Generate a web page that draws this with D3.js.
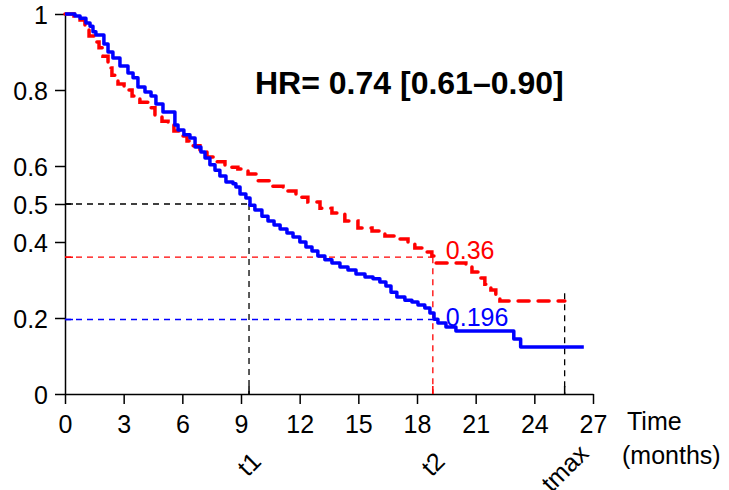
<!DOCTYPE html>
<html>
<head>
<meta charset="utf-8">
<script src="https://cdn.jsdelivr.net/npm/d3@7.9.0/dist/d3.min.js"></script>
<style>
  body { margin: 0; background: #fff; }
  text { font-family: "Liberation Sans", Arial, sans-serif; }
</style>
</head>
<body>
<svg id="chart" width="729" height="490"></svg>
<script>
// Kaplan-Meier curves: [time (months), survival]
const blueCurve = [
  [0, 1], [0.51, 0.995], [0.77, 0.989], [1.07, 0.976], [1.28, 0.968], [1.43, 0.953],
  [1.58, 0.945], [1.99, 0.921], [2.2, 0.9], [2.45, 0.884], [2.81, 0.863], [3.22, 0.845],
  [3.48, 0.832], [3.73, 0.808], [4.09, 0.795], [4.4, 0.784], [4.65, 0.763], [5.01, 0.742],
  [5.62, 0.708], [5.78, 0.695], [6.08, 0.682], [6.39, 0.674], [6.65, 0.65], [6.95, 0.637],
  [7.16, 0.621], [7.41, 0.603], [7.67, 0.589], [7.92, 0.574], [8.23, 0.558], [8.59, 0.553],
  [8.74, 0.545], [8.95, 0.526], [9.25, 0.516], [9.46, 0.497], [9.71, 0.484], [10.07, 0.468],
  [10.38, 0.455], [10.69, 0.445], [11.0, 0.434], [11.35, 0.424], [11.66, 0.413], [12.01, 0.4],
  [12.32, 0.387], [12.63, 0.376], [12.93, 0.363], [13.29, 0.353], [13.65, 0.345], [14.06, 0.334],
  [14.47, 0.326], [14.88, 0.316], [15.34, 0.308], [15.75, 0.303], [16.1, 0.295], [16.41, 0.284],
  [16.67, 0.268], [16.97, 0.255], [17.38, 0.247], [17.74, 0.242], [18.05, 0.234], [18.4, 0.226],
  [18.66, 0.213], [18.87, 0.197], [19.07, 0.187], [19.48, 0.176], [19.99, 0.166], [22.95, 0.145],
  [23.3, 0.124], [26.53, 0.124]
];
const redCurve = [
  [0, 1], [0.46, 0.995], [0.77, 0.984], [1.02, 0.963], [1.23, 0.942], [1.48, 0.926],
  [1.74, 0.911], [1.94, 0.889], [2.2, 0.858], [2.4, 0.839], [2.71, 0.816], [3.02, 0.8],
  [3.43, 0.784], [3.83, 0.768], [4.24, 0.753], [4.6, 0.734], [4.96, 0.718], [5.27, 0.708],
  [5.57, 0.692], [5.88, 0.679], [6.24, 0.666], [6.54, 0.653], [6.9, 0.637], [7.26, 0.624],
  [7.67, 0.611], [8.18, 0.597], [8.84, 0.592], [9.36, 0.579], [9.87, 0.561], [10.48, 0.547],
  [11.15, 0.534], [11.81, 0.518], [12.42, 0.505], [13.04, 0.489], [13.65, 0.476], [14.31, 0.455],
  [14.98, 0.437], [15.7, 0.429], [16.36, 0.416], [16.97, 0.408], [17.54, 0.397], [17.89, 0.384],
  [18.3, 0.374], [18.76, 0.363], [18.97, 0.345], [20.5, 0.337], [20.81, 0.321], [21.17, 0.305],
  [21.47, 0.289], [21.78, 0.274], [22.03, 0.255], [22.24, 0.245], [25.56, 0.245]
];

const xTicks = [0, 3, 6, 9, 12, 15, 18, 21, 24, 27];
const yTicks = [0, 0.2, 0.4, 0.5, 0.6, 0.8, 1];
const yLabels = ["0", "0.2", "0.4", "0.5", "0.6", "0.8", "1"];

// marked times and survival values
const t1 = 9.41, t2 = 18.81, tmax = 25.55;
const medianSurv = 0.5, redAtT2 = 0.36, blueAtT2 = 0.196, tmaxTop = 0.265;
const markLabels = ["t1", "t2", "tmax"];
const hrText = "HR= 0.74 [0.61\u20130.90]";

const svg = d3.select('#chart');
const x = d3.scaleLinear().domain([0, 27]).range([65, 593]);
const y = d3.scaleLinear().domain([0, 1]).range([394, 14]);

// axes (R style: line only spans the ticks)
const xAxis = svg.append('g').attr('transform', 'translate(0,394)')
  .call(d3.axisBottom(x).tickValues(xTicks).tickSize(10).tickPadding(6).tickSizeOuter(0));
const yAxis = svg.append('g').attr('transform', 'translate(65,0)')
  .call(d3.axisLeft(y).tickValues(yTicks).tickFormat((d, i) => yLabels[i]).tickSize(10).tickPadding(7).tickSizeOuter(0));
[xAxis, yAxis].forEach(a => {
  a.select('.domain').attr('stroke', '#000').attr('stroke-width', 1.5);
  a.selectAll('.tick line').attr('stroke', '#000').attr('stroke-width', 1.5);
  a.selectAll('.tick text').attr('fill', '#000').style('font-size', '25px');
});
yAxis.selectAll('.tick text').attr('dy', '0.36em');
xAxis.selectAll('.tick text').attr('dy', '0.9em');

// reference dashed lines
const refs = [
  { x1: 0, y1: medianSurv, x2: t1, y2: medianSurv, c: '#000' },
  { x1: t1, y1: medianSurv, x2: t1, y2: 0, c: '#000' },
  { x1: 0, y1: redAtT2, x2: t2, y2: redAtT2, c: '#ff0000' },
  { x1: t2, y1: redAtT2, x2: t2, y2: 0, c: '#ff0000' },
  { x1: 0, y1: blueAtT2, x2: t2, y2: blueAtT2, c: '#0000ff' },
  { x1: tmax, y1: tmaxTop, x2: tmax, y2: 0, c: '#000' }
];
svg.append('g').selectAll('line').data(refs).enter().append('line')
  .attr('x1', d => x(d.x1)).attr('y1', d => y(d.y1))
  .attr('x2', d => x(d.x2)).attr('y2', d => y(d.y2))
  .attr('stroke', d => d.c).attr('stroke-width', 1.3).attr('stroke-dasharray', '6,5');

// small inner ticks on the axes
const innerX = [{ v: t1, c: '#000' }, { v: t2, c: '#ff0000' }, { v: tmax, c: '#000' }];
svg.append('g').selectAll('line').data(innerX).enter().append('line')
  .attr('x1', d => x(d.v)).attr('x2', d => x(d.v))
  .attr('y1', y(0)).attr('y2', y(0) - 8)
  .attr('stroke', d => d.c).attr('stroke-width', 1.5);
const innerY = [{ v: medianSurv, c: '#000' }, { v: redAtT2, c: '#ff0000' }, { v: blueAtT2, c: '#0000ff' }];
svg.append('g').selectAll('line').data(innerY).enter().append('line')
  .attr('x1', x(0)).attr('x2', x(0) + 8)
  .attr('y1', d => y(d.v)).attr('y2', d => y(d.v))
  .attr('stroke', d => d.c).attr('stroke-width', 1.5);

// curves
const line = d3.line().x(d => x(d[0])).y(d => y(d[1])).curve(d3.curveStepAfter);
svg.append('path').datum(redCurve).attr('d', line)
  .attr('fill', 'none').attr('stroke', '#ff0000').attr('stroke-width', 3.5)
  .attr('stroke-dasharray', '11,9').attr('stroke-linecap', 'round');
svg.append('path').datum(blueCurve).attr('d', line)
  .attr('fill', 'none').attr('stroke', '#0000ff').attr('stroke-width', 3.5)
  .attr('stroke-linejoin', 'round');

// value labels
svg.append('text').attr('x', x(t2) + 13).attr('y', y(redAtT2) + 2)
  .attr('fill', '#ff0000').style('font-size', '25px').text('0.36');
svg.append('text').attr('x', x(t2) + 13).attr('y', y(blueAtT2) + 6)
  .attr('fill', '#0000ff').style('font-size', '25px').text('0.196');

// hazard ratio
svg.append('text').attr('x', 255).attr('y', 94)
  .style('font-size', '32px').style('font-weight', 'bold').text(hrText);

// axis title
svg.append('text').attr('x', 627).attr('y', 430).style('font-size', '25px').text('Time');
svg.append('text').attr('x', 622).attr('y', 464).style('font-size', '25px').text('(months)');

// rotated time labels under the axis
svg.append('g').selectAll('text').data([t1, t2, tmax]).enter().append('text')
  .attr('transform', (d, i) => `translate(${x(d) + (i === 2 ? 0 : 0)},${i === 2 ? 468 : 464}) rotate(-45)`)
  .attr('text-anchor', 'middle').attr('dy', '0.35em')
  .style('font-size', '25px').text((d, i) => markLabels[i]);
</script>
</body>
</html>
